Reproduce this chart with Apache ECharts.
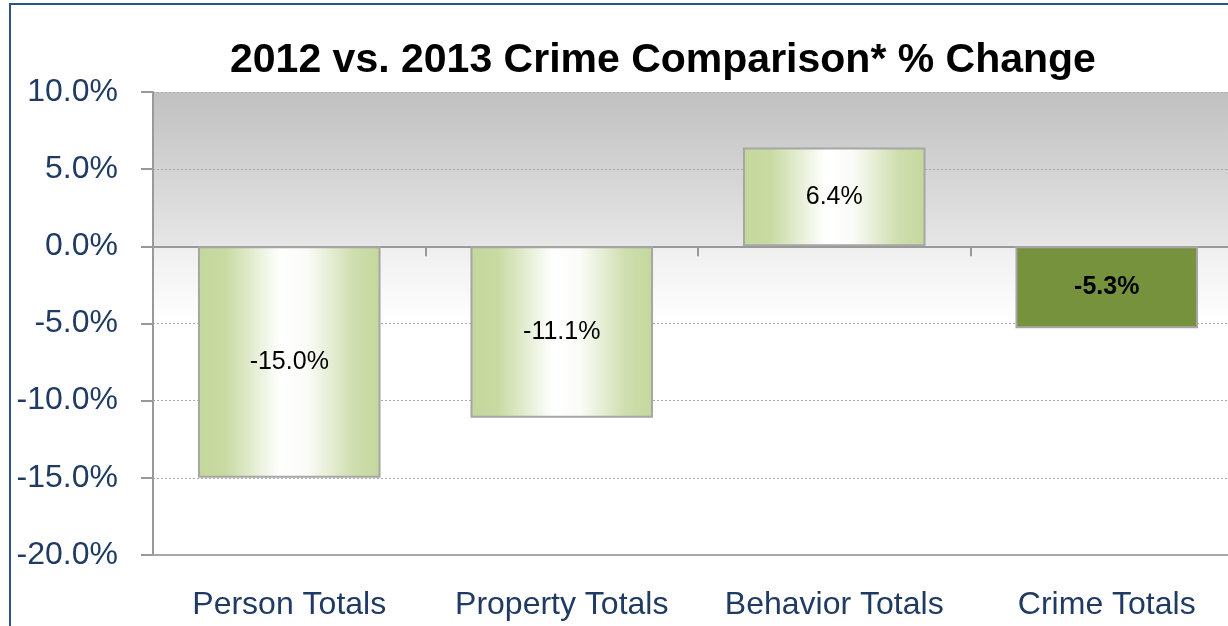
<!DOCTYPE html>
<html>
<head>
<meta charset="utf-8">
<script src="https://cdn.jsdelivr.net/npm/echarts@6/dist/echarts.min.js"></script>
<style>
  html, body { margin: 0; padding: 0; background: #fff; }
  #chart { width: 1228px; height: 626px; }
</style>
</head>
<body>
<div id="chart"></div>
<script>
const categories = ['Person Totals', 'Property Totals', 'Behavior Totals', 'Crime Totals'];
const changeValues = [-15.0, -11.1, 6.4, -5.3];
const axisMin = -20;
const axisMax = 10;
const axisStep = 5;

const font = 'Liberation Sans, Arial, sans-serif';
const labelBlue = '#1f3b63';

const lightBar = {
  type: 'linear', x: 0, y: 0, x2: 1, y2: 0,
  colorStops: [
    { offset: 0, color: '#c4d79b' },
    { offset: 0.15, color: '#c8daa2' },
    { offset: 0.45, color: '#ffffff' },
    { offset: 0.6, color: '#fbfcf8' },
    { offset: 0.85, color: '#cfdeaf' },
    { offset: 1, color: '#c4d79b' }
  ]
};

const barData = changeValues.map((v, i) => {
  const last = i === changeValues.length - 1;
  return {
    value: v,
    itemStyle: { color: last ? '#76923c' : lightBar },
    label: { fontWeight: last ? 'bold' : 'normal' }
  };
});

const chart = echarts.init(document.getElementById('chart'));
chart.setOption({
  animation: false,
  title: {
    text: '2012 vs. 2013 Crime Comparison* % Change',
    left: 225,
    top: 35,
    textStyle: { fontFamily: font, fontSize: 41, fontWeight: 'bold', color: '#000' }
  },
  graphic: [{
    type: 'rect',
    shape: { x: 10, y: 4, width: 1400, height: 800 },
    style: { fill: 'none', stroke: '#2a5486', lineWidth: 2 },
    z: 100
  }],
  grid: {
    left: 153, top: 92, bottom: 71, width: 1090,
    outerBoundsMode: 'none',
    containLabel: false,
    show: true,
    borderWidth: 0,
    backgroundColor: {
      type: 'linear', x: 0, y: 0, x2: 0, y2: 1,
      colorStops: [
        { offset: 0, color: '#c0c0c0' },
        { offset: 0.33, color: '#e6e6e6' },
        { offset: 0.335, color: '#efefef' },
        { offset: 0.5, color: '#ffffff' },
        { offset: 1, color: '#ffffff' }
      ]
    }
  },
  xAxis: [{
    type: 'category',
    data: categories,
    axisLine: { onZero: false, lineStyle: { color: '#a6a6a6', width: 2 } },
    axisTick: { show: false },
    axisLabel: { interval: 0, fontFamily: font, fontSize: 32, color: labelBlue, margin: 34 }
  }, {
    type: 'category',
    data: categories,
    position: 'bottom',
    axisLine: { onZero: true, lineStyle: { color: '#999', width: 2 } },
    axisTick: { show: true, length: 10, lineStyle: { color: '#999', width: 2 } },
    axisLabel: { show: false }
  }],
  yAxis: {
    type: 'value',
    min: axisMin,
    max: axisMax,
    interval: axisStep,
    axisLine: { show: true, lineStyle: { color: '#999', width: 2 } },
    axisTick: { show: true, length: 12, lineStyle: { color: '#999', width: 2 } },
    axisLabel: {
      fontFamily: font, fontSize: 32, color: labelBlue, margin: 35,
      formatter: v => v.toFixed(1) + '%'
    },
    splitLine: { lineStyle: { color: '#aaa', type: [2, 2], width: 1 } }
  },
  series: [{
    type: 'bar',
    xAxisIndex: 0,
    data: barData,
    barCategoryGap: '33%',
    itemStyle: { borderColor: '#a6a6a6', borderWidth: 2 },
    label: {
      show: true,
      position: 'inside',
      fontFamily: font,
      fontSize: 25,
      color: '#000',
      formatter: p => p.value.toFixed(1) + '%'
    }
  }]
});
</script>
</body>
</html>
